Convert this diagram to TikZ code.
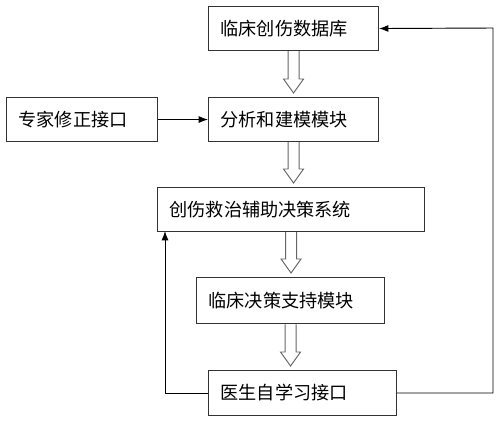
\documentclass[tikz,border=0pt]{standalone}
\usepackage{fontspec}
\setmainfont{Noto Sans CJK SC}
\usepackage{tikz}
\usetikzlibrary{arrows.meta,calc}

\tikzset{
  box/.style={draw=black!80, line width=0.9pt, text width=#1, inner xsep=0.36cm,
              align=left, anchor=north west, font=\fontsize{15.5pt}{18pt}\selectfont},
  link/.style={line width=0.8pt, -{Latex[length=8pt,width=6pt]}},
  hollow/.style={draw=black!60, line width=0.8pt}
}

\newcommand{\hollowarrow}[2]{%
  \path (#1.south) coordinate (ha) (#1.south |- #2.north) coordinate (hb);
  \draw[hollow] ($(ha)+(-5.5,0)$) -- ($(hb)+(-5.5,-18)$) -- ($(hb)+(-10,-18)$)
    -- ($(hb)+(0,-4)$) -- ($(hb)+(10,-18)$) -- ($(hb)+(5.5,-18)$) -- ($(ha)+(5.5,0)$);
}

\begin{document}
\begin{tikzpicture}[x=0.03cm, y=-0.03cm]
        \useasboundingbox (0,0) rectangle (500,422);

        \node[box=4.38cm, minimum height=1.32cm] (database) at (208, 6)   {临床创伤数据库};
        \node[box=3.81cm, minimum height=1.32cm] (expert)   at (6,   97)  {专家修正接口};
        \node[box=4.38cm, minimum height=1.32cm] (analysis) at (208, 97)  {分析和建模模块};
        \node[box=7.29cm, minimum height=1.32cm] (system)   at (157, 187) {创伤救治辅助决策系统};
        \node[box=4.92cm, minimum height=1.39cm] (support)  at (196, 277) {临床决策支持模块};
        \node[box=4.92cm, minimum height=1.35cm] (doctor)   at (208, 370) {医生自学习接口};

        \coordinate (rc) at (493, 28);
        \coordinate (lc) at (165, 231);

        \draw[link] (expert) -- (analysis);
        \draw[link] (doctor.east) -| (rc) -- (database.east);
        \draw[link] (doctor.west) -| (lc);

        \hollowarrow{database}{analysis}
        \hollowarrow{analysis}{system}
        \hollowarrow{system}{support}
        \hollowarrow{support}{doctor}
      \end{tikzpicture}
\end{document}
